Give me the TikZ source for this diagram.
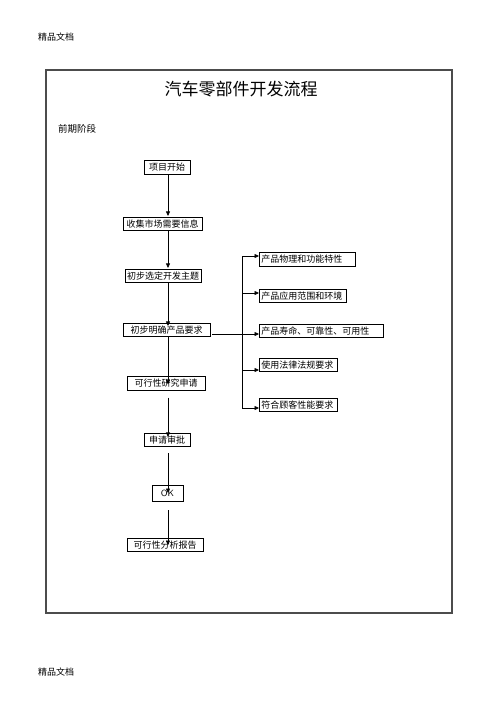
\documentclass[tikz,border=0pt]{standalone}
\usepackage{fontspec}
\setmainfont{Liberation Serif}
\newfontfamily\cjk{Noto Sans CJK SC}
\usetikzlibrary{arrows.meta}
\begin{document}
\begin{tikzpicture}[x=1pt,y=-1pt,
  box/.style={draw, font=\cjk\fontsize{9}{10}\selectfont, inner xsep=2pt, inner ysep=1pt, line width=0.6pt, minimum height=13.5pt},
  rbox/.style={box, anchor=west, align=left},
  arr/.style={-{Triangle[length=4.5pt,width=4pt]}, line width=0.6pt},
  ln/.style={line width=0.6pt},
  small/.style={font=\cjk\fontsize{9}{10}\selectfont, inner sep=0pt}
]
\useasboundingbox (0,0) rectangle (500,707);
\node[small] (hdr) at (56,37) {精品文档};
\node[small] (ftr) at (56,672) {精品文档};
\draw[line width=1.8pt, gray!60!black] (46,70) rectangle (452,613);
\node[font=\cjk\fontsize{17}{19}\selectfont, inner sep=0pt] (title) at (241,89) {汽车零部件开发流程};
\node[small, font=\cjk\fontsize{9.5}{10}\selectfont] (stage) at (77,129) {前期阶段};

% left column
\node[box, minimum width=46pt] (s1) at (167,167.5) {项目开始};
\node[box, minimum width=79pt] (s2) at (162.5,224) {收集市场需要信息};
\node[box, minimum width=76pt] (s3) at (163,276) {初步选定开发主题};
\node[box, minimum width=87pt] (s4) at (166.5,330) {初步明确产品要求};
\node[box, minimum width=78pt] (s5) at (166,383.5) {可行性研究申请};
\node[box, minimum width=46pt] (s6) at (167,440) {申请审批};
\node[box, minimum width=31pt, minimum height=16pt, font=\fontsize{9}{10}\selectfont\sffamily] (s7) at (167.5,493) {OK};
\node[box, minimum width=76pt] (s8) at (165,545) {可行性分析报告};

\coordinate (col) at (168,0);
\draw[arr] (col |- s1.south) -- ([yshift=1pt]col |- s2.north);
\draw[arr] (col |- s2.south) -- ([yshift=1pt]col |- s3.north);
\draw[arr] (col |- s3.south) -- ([yshift=-3pt]col |- s4.north);
\draw[arr] (col |- s4.south) -- ([yshift=-8pt]col |- s5.north);
\draw[arr] ([yshift=-7pt]col |- s5.south) -- ([yshift=-4pt]col |- s6.north);
\draw[arr] ([yshift=-6pt]col |- s6.south) -- (col |- s7.center);
\draw[arr] ([yshift=-9pt]col |- s7.south) -- (col |- s8.center);

% right column
\node[rbox, text width=92pt] (r1) at (259,259.5) {产品物理和功能特性};
\node[rbox, text width=83pt] (r2) at (259,296) {产品应用范围和环境};
\node[rbox, text width=120pt] (r3) at (259,331) {产品寿命、可靠性、可用性};
\node[rbox, text width=74pt] (r4) at (259,365) {使用法律法规要求};
\node[rbox, text width=74pt] (r5) at (259,405) {符合顾客性能要求};

\coordinate (bus) at (242,0);
\coordinate (a1) at ([yshift=3.5pt]r1.west);
\coordinate (a2) at ([yshift=3pt]r2.west);
\coordinate (a3) at ([yshift=-3pt]r3.west);
\coordinate (a4) at ([yshift=-5pt]r4.west);
\coordinate (a5) at ([yshift=-3pt]r5.west);
\draw[ln] (bus |- a1) -- (bus |- a5);
\draw[arr] ([xshift=2pt]s4.east |- a3) -- (a3);
\draw[arr] (bus |- a1) -- (a1);
\draw[arr] (bus |- a2) -- (a2);
\draw[arr] (bus |- a4) -- (a4);
\draw[arr] (bus |- a5) -- (a5);
\end{tikzpicture}
\end{document}
